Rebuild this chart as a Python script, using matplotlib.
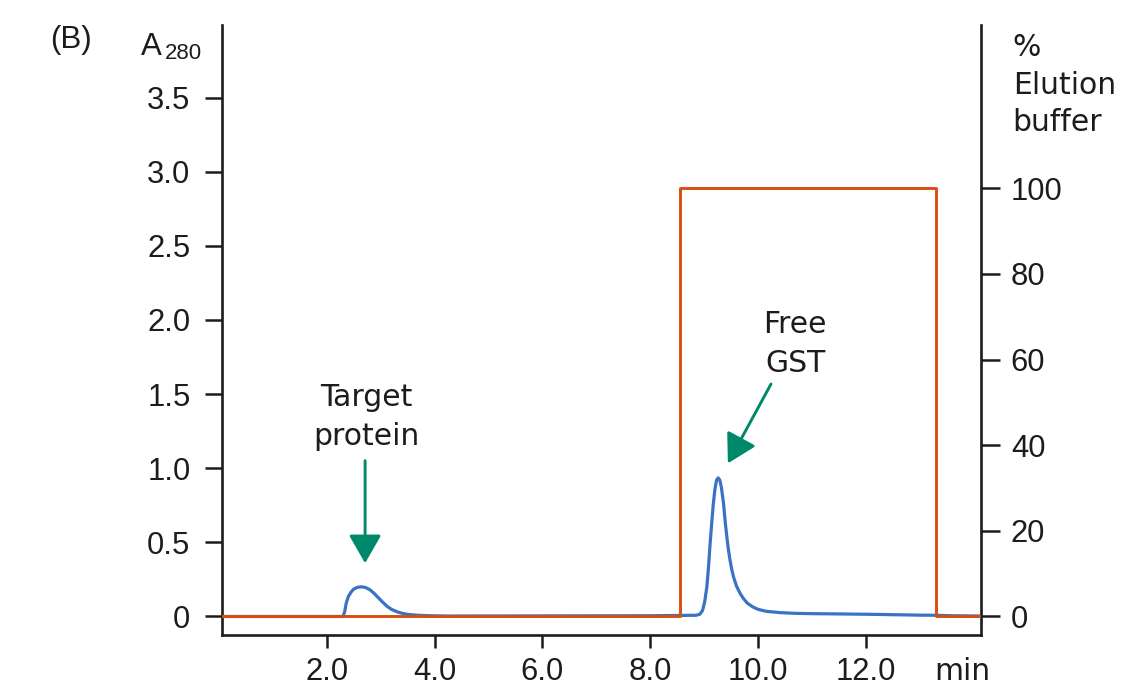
import matplotlib
matplotlib.use("Agg")
import matplotlib.pyplot as plt

# Absorbance trace (A280) versus run time (min)
time_min = [0.05, 2.30, 2.33, 2.36, 2.40, 2.45, 2.50, 2.57, 2.65, 2.72, 2.80,
            2.88, 2.96, 3.04, 3.12, 3.20, 3.30, 3.40, 3.52, 3.70, 3.90, 4.20,
            8.00, 8.85, 8.92, 8.97, 9.01, 9.05, 9.08, 9.11, 9.14, 9.17, 9.20,
            9.23, 9.26, 9.29, 9.32, 9.36, 9.39, 9.42, 9.45, 9.48, 9.51, 9.55,
            9.60, 9.66, 9.72, 9.80, 9.90, 10.00, 10.15, 10.40, 10.70, 11.00,
            11.50, 12.00, 12.50, 13.00, 13.30, 13.60, 14.13]
a280 = [0.0, 0.0, 0.03, 0.09, 0.135, 0.165, 0.185, 0.197, 0.200, 0.195, 0.180,
        0.155, 0.125, 0.095, 0.068, 0.048, 0.032, 0.021, 0.013, 0.008, 0.005, 0.003,
        0.005, 0.008, 0.015, 0.04, 0.10, 0.20, 0.33, 0.49, 0.63, 0.76, 0.86,
        0.92, 0.935, 0.92, 0.87, 0.76, 0.64, 0.54, 0.45, 0.38, 0.32, 0.26,
        0.205, 0.16, 0.125, 0.09, 0.065, 0.048, 0.035, 0.026, 0.021, 0.019,
        0.017, 0.015, 0.012, 0.009, 0.008, 0.005, 0.003]

# Elution buffer step program (%), post-step values
buffer_time = [0.05, 8.555, 13.30, 14.13]
buffer_pct = [0, 100, 0, 0]

# Axis ticks
a280_ticks = [0, 0.5, 1.0, 1.5, 2.0, 2.5, 3.0, 3.5]
a280_labels = ["0", "0.5", "1.0", "1.5", "2.0", "2.5", "3.0", "3.5"]
time_ticks = [2, 4, 6, 8, 10, 12]
time_labels = ["2.0", "4.0", "6.0", "8.0", "10.0", "12.0"]
pct_ticks = [0, 20, 40, 60, 80, 100]
pct_labels = ["0", "20", "40", "60", "80", "100"]

BLUE = "#3a72c4"
ORANGE = "#d5500e"
GREEN = "#00886a"
INK = "#1c1c1c"
TICK_FONT = "Liberation Sans"
TEXT_FONT = "DejaVu Sans"
TICK_SIZE = 22.3
TEXT_SIZE = 21.5

W, H = 1139, 694
fig = plt.figure(figsize=(W / 100, H / 100), dpi=100)
ax = fig.add_axes([221.7 / W, 59 / H, 759 / W, 610 / H])
ax2 = ax.twinx()

ymin, ymax = -0.125, 3.99
full_scale = 2.889  # A280 level that lines up with 100 % buffer
ax.set_xlim(0.05, 14.13)
ax.set_ylim(ymin, ymax)
ax2.set_ylim(ymin * 100 / full_scale, ymax * 100 / full_scale)

ax.plot(time_min, a280, color=BLUE, lw=2.3, solid_capstyle="round", zorder=2)
ax2.plot(buffer_time, buffer_pct, color=ORANGE, lw=2.1, drawstyle="steps-post", zorder=3)

for a in (ax, ax2):
    a.spines["top"].set_visible(False)
    for s in a.spines.values():
        s.set_linewidth(1.9)
        s.set_color(INK)
    a.patch.set_visible(False)
ax2.spines["left"].set_visible(False)
ax2.spines["bottom"].set_visible(False)
ax.spines["right"].set_visible(False)

ax.set_yticks(a280_ticks, labels=a280_labels)
ax.set_xticks(time_ticks, labels=time_labels)
ax.set_xticks([13.78], labels=["min"], minor=True)
ax2.set_yticks(pct_ticks, labels=pct_labels)

ax.tick_params(axis="y", direction="out", length=12.5, width=1.8, pad=10.0,
               colors=INK, labelsize=TICK_SIZE)
ax.tick_params(axis="x", which="major", direction="out", length=9.6, width=1.8,
               pad=6.5, colors=INK, labelsize=TICK_SIZE)
ax.tick_params(axis="x", which="minor", length=0, pad=16.0, colors=INK, labelsize=21.5)
ax2.tick_params(axis="y", direction="out", length=13.7, width=1.8, pad=8.0,
                colors=INK, labelsize=TICK_SIZE)
for lab in ax.get_yticklabels() + ax.get_xticklabels() + ax2.get_yticklabels():
    lab.set_fontfamily(TICK_FONT)
for lab in ax.get_xticklabels(minor=True):
    lab.set_fontfamily(TEXT_FONT)

# Panel letter and axis titles
fig.text(50 / W, 1 - 48.3 / H, "(B)", family=TICK_FONT, fontsize=22.5,
         color=INK, ha="left", va="baseline")
fig.text(140.5 / W, 1 - 55 / H, "A", family=TICK_FONT, fontsize=22.5,
         color=INK, ha="left", va="baseline")
fig.text(165 / W, 1 - 59.3 / H, "280", family=TICK_FONT, fontsize=16,
         color=INK, ha="left", va="baseline")
fig.text(1012.7 / W, 1 - 33 / H, "%\nElution\nbuffer", family=TEXT_FONT,
         fontsize=TEXT_SIZE, color=INK, ha="left", va="top", linespacing=1.38)

# Peak annotations
ax.annotate("", xy=(2.71, 0.359), xytext=(2.71, 1.051),
            arrowprops=dict(arrowstyle="-|>,head_length=1.75,head_width=1.0",
                            mutation_scale=10, color=GREEN, lw=2.1,
                            shrinkA=0, shrinkB=0))
ax.text(2.74, 1.345, "Target\nprotein", family=TEXT_FONT, fontsize=TEXT_SIZE,
        color=INK, ha="center", va="center", multialignment="center",
        linespacing=1.45)

ax.annotate("", xy=(9.44, 1.033), xytext=(10.24, 1.568),
            arrowprops=dict(arrowstyle="-|>,head_length=1.75,head_width=1.0",
                            mutation_scale=10, color=GREEN, lw=2.1,
                            shrinkA=0, shrinkB=0))
ax.text(10.69, 1.84, "Free\nGST", family=TEXT_FONT, fontsize=TEXT_SIZE,
        color=INK, ha="center", va="center", multialignment="center",
        linespacing=1.42)

fig.savefig("out.png", dpi=100)
